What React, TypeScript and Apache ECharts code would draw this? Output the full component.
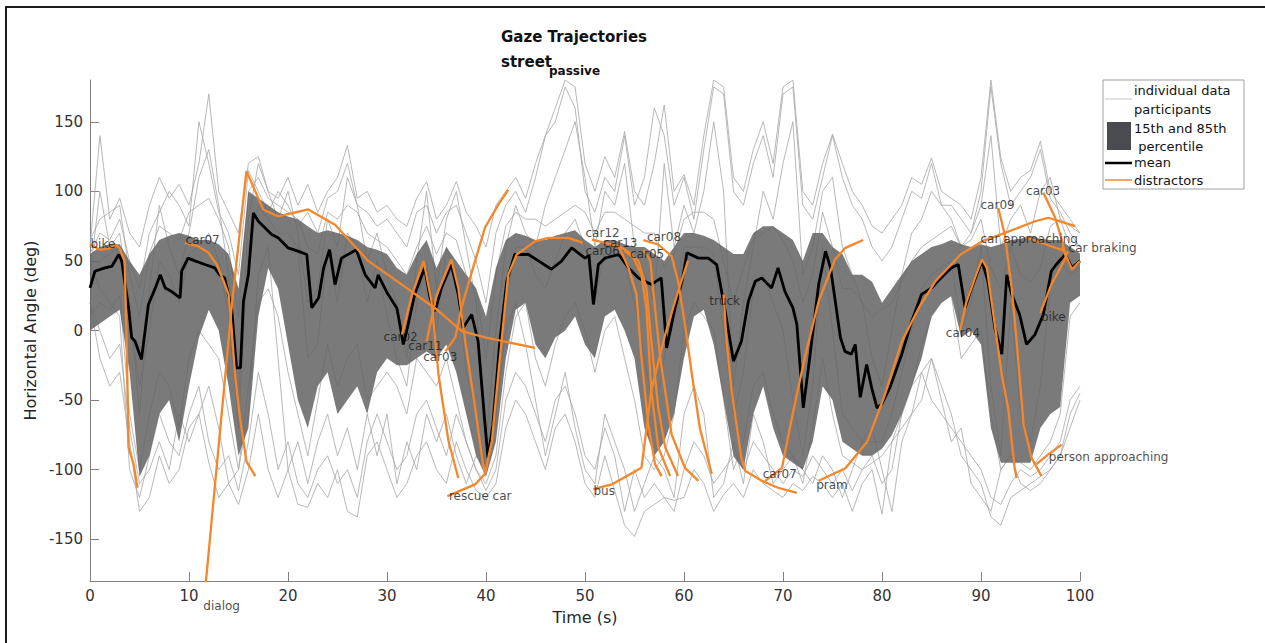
import React, { useEffect, useRef } from "react";
import * as echarts from "echarts";

// ---------- axes ----------
const yTicks = [-150, -100, -50, 0, 50, 100, 150];
const xTicks = [0, 10, 20, 30, 40, 50, 60, 70, 80, 90, 100];

// ---------- individual participants (1 s resolution, t = 0..100) ----------
const partA = [60,140,80,95,70,60,90,110,95,105, 90,120,170,100,85,70,120,125,100,95, 110,90,105,85,100,110,133,95,100,85, 90,80,75,95,107,80,90,107,85,75, 60,90,100,110,95,120,140,160,180,175, 120,100,125,110,143,100,90,120,162,100, 112,90,140,180,175,110,100,130,150,120, 175,180,100,90,120,141,120,100,90,75, 70,80,90,110,105,124,100,95,90,80, 110,180,124,100,110,115,136,100,90,80, 70];
const partB = [20,-20,-40,-30,-80,-130,-120,-90,-110,-100, -70,-60,-95,-120,-110,-125,-100,-60,-100,-120, -100,-125,-127,-110,-120,-100,-130,-134,-90,-80, -100,-120,-110,-90,-80,-100,-110,-80,-100,-115, -120,-110,-70,-50,-60,-80,-100,-70,-60,-80, -110,-120,-90,-115,-140,-148,-130,-125,-120,-122, -120,-100,-110,-130,-118,-110,-120,-100,-110,-115, -120,-110,-115,-105,-110,-120,-110,-130,-110,-100, -132,-80,-70,-60,-50,-20,-40,-60,-90,-100, -110,-134,-140,-120,-115,-110,-105,-100,-90,-60, -45];
const partC = [65,80,85,90,40,10,55,75,70,65, 85,90,95,80,60,10,100,110,95,90, 85,80,60,55,85,80,90,85,70,65, 60,50,40,60,75,55,70,65,40,30, -20,40,75,85,80,80,75,80,85,90, 85,70,85,85,80,75,70,70,45,55, 80,85,85,80,50,20,45,65,70,75, 65,50,20,40,85,60,30,30,20,10, 15,20,35,50,60,65,70,75,60,65, 80,45,30,60,40,35,45,75,80,75, 70];
const partD = [10,20,15,25,-60,-100,-60,-30,-40,-70, -20,0,-10,-20,-60,-100,-40,20,30,10, -30,-60,-90,-50,-10,-40,-20,-10,-50,-40, -30,-40,-60,-20,-30,-40,-20,-50,-80,-100, -110,-90,-30,10,20,-20,-40,-10,10,20, 0,-30,0,10,-20,-50,-90,-100,-90,-60, 0,20,10,0,-50,-100,-80,-40,-30,-60, -80,-90,-110,-70,-20,-60,-90,-95,-100,-95, -90,-80,-60,-40,-10,10,20,25,-20,-10, 0,-60,-100,-90,-95,-100,-90,-80,-60,10, 20];
const partE = [40,100,60,70,20,-60,30,90,60,40, 70,110,130,90,40,-50,80,120,100,80, 100,70,20,30,80,60,110,90,50,70, 40,20,-20,50,100,30,80,100,60,20, -80,0,60,90,70,60,90,110,130,150, 110,60,100,90,120,60,40,20,120,60, 90,70,100,150,100,-40,20,60,100,80, 120,150,40,60,100,110,60,40,20,-20, -40,0,40,70,80,100,90,80,60,70, 90,140,60,80,90,70,100,110,80,60, 55];
const partF = [50,30,20,10,-100,-120,-90,-60,-80,-90, -60,-40,-80,-100,-90,-115,-80,-30,-60,-100, -80,-110,-120,-100,-90,-110,-100,-120,-80,-60, -80,-100,-90,-60,-50,-70,-90,-60,-80,-100, -115,-100,-50,-30,-40,-60,-80,-50,-40,-60, -90,-100,-70,-90,-130,-100,-120,-110,-120,-130, -100,-80,-90,-110,-100,-90,-100,-80,-90,-100, -110,-100,-105,-90,-100,-110,-100,-115,-100,-90, -110,-100,-60,-40,-30,-50,-60,-70,-80,-90, -100,-120,-125,-110,-100,-105,-100,-90,-80,-50, -40];
const partG = [35,50,55,60,10,-40,0,50,40,20, 55,60,70,50,10,-70,60,90,80,70, 70,60,-20,-10,60,20,70,60,20,50, 10,-20,-40,20,50,0,60,40,-30,-60, -100,-60,20,60,60,40,30,50,70,80, 60,20,60,60,50,20,-20,-60,-20,20, 60,60,60,55,0,-60,-30,30,40,20, 0,-50,-90,-40,60,0,-60,-70,-80,-80, -80,-60,-30,0,30,40,45,50,0,20, 60,-40,-90,20,-60,-80,-40,30,50,40, 45];
const partH = [55,70,65,80,50,30,70,85,100,90, 75,150,120,85,70,40,115,100,85,100, 90,75,85,70,95,100,120,90,85,75, 80,70,60,85,90,70,85,90,70,50, 20,70,90,100,85,110,140,150,175,160, 100,85,110,100,140,90,110,160,140,90, 110,80,130,175,170,100,90,120,140,110, 170,175,90,80,110,140,110,90,80,60, 50,60,80,100,95,120,90,90,80,70, 100,175,120,90,100,110,130,95,85,70, 60];
const partI = [20,0,-20,-10,-70,-110,-100,-80,-100,-60, -80,-60,-40,-70,-110,-100,-60,40,60,-20, -100,-80,-110,-80,-60,-90,-70,-100,-60,-90, -60,-110,-80,-100,-60,-80,-60,-90,-110,-90, -100,-60,0,20,-10,-50,-90,-60,-30,-70, -100,-110,-60,-80,-100,-130,-110,-90,-100,-120, -60,-40,-60,-120,-110,-80,-110,-60,-80,-110, -100,-90,-100,-110,-90,-100,-120,-100,-80,-70, -100,-130,-80,-60,-30,-20,-50,-80,-70,-110, -120,-130,-100,-90,-110,-115,-110,-100,-90,-70, -50];
const participants = [partA, partB, partC, partD, partE, partF, partG, partH, partI];

// ---------- 15th / 85th percentile band (1 s resolution) ----------
const bandUpper = [55,60,62,62,50,40,55,65,68,70, 68,65,65,62,55,30,100,95,90,85, 82,80,75,70,72,70,68,65,60,58, 55,45,40,55,65,45,60,50,40,30, 10,45,65,70,68,65,65,68,70,72, 65,60,65,65,62,60,60,55,50,60, 70,70,68,65,60,55,55,70,75,75, 70,65,50,70,70,60,55,40,40,35, 20,30,40,50,55,60,62,65,62,60, 62,60,62,65,66,68,66,65,65,60, 55];
const bandLower = [0,5,10,15,-30,-105,-90,-60,-50,-80, -40,-5,15,0,-40,-90,-70,10,45,30, -10,-50,-70,-40,-30,-60,-50,-40,-60,-30, -20,-25,-25,-20,-15,-20,-10,-30,-60,-90, -105,-80,-20,15,20,-10,-20,-5,0,10, -10,-20,10,15,0,-20,-70,-90,-80,-60, -20,10,15,-10,-50,-90,-100,-60,-40,-70, -90,-95,-100,-80,-40,-50,-80,-85,-90,-90, -85,-75,-60,-40,-20,10,20,25,-5,0, -10,-70,-95,-95,-95,-95,-70,-60,-55,20, 25];

// ---------- mean ----------
const meanT = [0,0.5,1.5,2.2,2.9,3.2,3.5,3.9,4.2,4.55,5.2,5.6,5.9,6.6,7.1,7.6,8.25,9.1,9.26,9.9,10.6,11.6,12.6,13.1,13.6,14.3,14.8,15.2,15.5,16,16.5,17,18.35,19,20,21,21.9,22.4,23.1,23.6,24.2,24.75,25.4,26.9,27.8,28.8,29.1,30.1,31,31.3,31.65,32,32.8,33.8,34.35,34.85,35.5,36.5,37.2,37.7,38.55,39.2,39.9,40.2,40.7,41.4,42.1,42.9,44.3,45.3,46.6,47.65,48.65,50,50.4,50.85,51.35,52,53.4,54.4,55.4,56.7,57.7,58.25,59.1,59.8,60.3,61.45,62.45,63.3,64.1,65,65.8,66.5,67.2,67.85,68.85,69.5,70.2,71,71.4,72.05,72.7,73.6,74.3,74.8,75.3,75.8,76.25,76.9,77.3,77.8,78.45,78.95,79.5,79.96,80.8,82,83,84,85,86,87,87.7,88.4,89.05,90.1,90.7,91.4,92.1,92.6,93.1,93.9,94.6,95.45,96.3,97.1,97.6,98.5,99.2,100];
const meanV = [30.6,42.6,45,46,54.6,50,35.4,16.3,-5,-7.7,-20.8,1.9,18.7,30.6,40,30.6,28,23.5,42.6,52,50,47.4,45,40,37.8,16,-26.8,-26.8,21,40,84.5,78.5,69,66.6,59.4,57,54.6,16.3,23.5,45,58,33,52,58,40,30.6,40,26,16,4.3,-10,0,26,45,23.5,14,30.6,47.4,26,1.9,11.5,-7.7,-67.5,-91.5,-67.5,-7.7,35.4,54.6,54.6,50,44,50,59.4,52,54,18.7,47.4,52,54.6,45,37.8,33,37.8,-12.5,16.3,35.4,55.8,52,52,47.4,16.3,-22,-7.7,21,35.4,37.8,30.6,45,28,16.3,4.3,-55.6,-19.6,33,57,45,20,-5,-15,-17,-10,-48,-24.4,-41,-55.6,-53,-41,-17,6.7,26,30.6,38,45,47.4,16.3,30.6,50,35.4,1.9,-17,40,26,11.5,-10,-2.9,11.5,42.6,47.4,54.6,45,50];

// ---------- distractors: [time, angle] ----------
const dBike1 = [[0,62],[1,58],[2,59],[2.5,62],[3,59],[3.5,50],[3.7,-8],[3.9,-84],[4.4,-96],[4.8,-113]];
const dCar07a = [[9.6,63],[10.9,60.6],[11.95,56],[12.8,47.4],[13.5,35.4],[14,26],[14.3,2],[14.65,-31.6],[15.15,-62.7],[15.8,-94],[16.7,-104.6]];
const dDialog = [[11.65,-185],[14.3,16],[15.8,114.5],[17.5,87],[19,82],[22.05,87],[24.75,76],[28.1,50],[31.5,33],[34.85,16],[37.55,-0.5],[39.9,-5],[44.95,-12.5]];
const dCar02 = [[31.5,-3],[32.5,25],[33.7,50],[34.5,21],[35.2,-31.6],[36.2,-79],[37.2,-106]];
const dCar11 = [[34,-7.7],[35,25],[36.5,51],[37.2,30.6],[37.9,-7.7],[38.9,-55.6],[39.7,-96],[39.9,-103]];
const dCar03a = [[35.9,-15],[36.9,-5],[37.5,16],[38.9,50],[39.9,74],[41.25,90.5],[42.25,101]];
const dRescue = [[36.1,-119],[38.9,-110.6],[39.9,-103],[40.6,-79],[41.25,-31],[41.9,16],[42.25,40],[43.1,54.6],[44.95,64],[46.3,66.6],[48.3,66.6],[49.8,63]];
const dBus = [[50.85,-114],[52.7,-110.6],[55.7,-98.7],[56.06,-79],[56.7,-43],[58.1,-2.9],[59.4,28],[60.4,50]];
const dCar12 = [[50.7,65.3],[53.4,60.6],[54.4,45],[55.2,26],[55.7,-19.6],[56.4,-67.5],[57.07,-96],[57.74,-104.6]];
const dCar13 = [[53.4,61],[54.7,55],[55.7,40],[56.2,16],[56.7,-43],[57.4,-84],[58.6,-104.6]];
const dCar06 = [[54,57],[55.4,50],[56.2,30.6],[56.7,-7.7],[57.4,-55.6],[58.1,-84],[59.4,-104.6]];
const dCar05 = [[55.9,58],[56.6,50],[57.07,16],[57.6,-19.6],[58.75,-74.7],[60.1,-98.7],[61.45,-108]];
const dCar08 = [[55.9,65],[57.4,61.8],[58.75,53.4],[59.4,35.4],[60.1,4.3],[60.8,-31.6],[61.6,-70],[62.8,-103]];
const dTruck = [[64,26],[64.3,-7.7],[64.8,-43],[65.8,-91.5],[66.2,-101],[67.85,-108],[69.5,-113],[71.4,-116.6]];
const dCar07b = [[68.2,-108],[69.9,-98.7],[70.9,-62.7],[72.2,-19.6],[73.6,21],[75.25,51],[76.3,59.4],[78.1,65]];
const dPram = [[73.6,-108],[76.3,-99],[78.5,-80],[80.3,-46],[82,-8],[83.7,16],[85.35,35],[88,55],[90.1,64],[92.75,71],[95.45,78.5],[96.8,81],[99.5,75]];
const dCar04 = [[87.9,0],[88.5,20],[89.5,40],[90.1,51],[90.6,45],[91.4,4],[92.1,-32],[92.75,-56],[93.4,-99],[93.6,-106]];
const dCar09 = [[91.75,88],[92.4,69],[93.1,30.6],[93.6,-7.7],[94.3,-67.5],[95.1,-91.5],[95.45,-96],[96.1,-104.6]];
const dCar03b = [[96.3,99],[97.5,81],[98.2,64],[98.5,54.6],[98.8,50]];
const dCarBraking = [[98.2,60],[98.8,50],[99.2,44],[100,50]];
const dCarApproach = [[94.5,67],[96.5,62],[98.5,57]];
const dBike2 = [[96,12.7],[97.1,33],[98.2,47.4],[98.8,57]];
const dPerson = [[95.6,-96],[96.8,-89],[98.15,-82]];
const distractors = [dBike1, dCar07a, dDialog, dCar02, dCar11, dCar03a, dRescue, dBus, dCar12, dCar13, dCar06, dCar05, dCar08, dTruck, dCar07b, dPram, dCar04, dCar09, dCar03b, dCarBraking, dCarApproach, dBike2, dPerson];

// ---------- distractor labels ----------
const labelNames = ["bike","car07","dialog","car02","car11","car03","rescue car","bus","car12","car13","car06","car05","car08","truck","car07","pram","car04","car09","car03","car approaching","car braking","bike","person approaching"];
const labelT = [0,9.6,11.4,29.6,32.1,33.6,36.2,50.8,50,51.8,50,54.5,56.2,62.5,67.9,73.3,86.4,89.9,94.5,89.9,98.8,96,96.8];
const labelV = [62,65,-198,-5,-11,-19,-119,-115,70,63,57,55,67,21,-103,-111,-2,90,100,66,59,10,-91];

const FONT = "DejaVu Sans";
const ORANGE = "#f4862b";

export default function App() {
  const ref = useRef<HTMLDivElement>(null);
  useEffect(() => {
    document.body.style.margin = "0";
    const chart = echarts.init(ref.current as HTMLDivElement, undefined, { renderer: "svg" });

    const series: any[] = [];
    participants.forEach((p) => {
      series.push({
        type: "line",
        data: p.map((v, i) => [i, v]),
        showSymbol: false,
        silent: true,
        lineStyle: { color: "#a6a6a6", width: 0.8 },
        z: 1,
      });
    });
    series.push({
      type: "custom",
      silent: true,
      z: 2,
      data: [[0, 0]],
      renderItem: (params: any, api: any) => {
        const pts: number[][] = [];
        for (let i = 0; i < bandUpper.length; i++) pts.push(api.coord([i, bandUpper[i]]));
        for (let i = bandLower.length - 1; i >= 0; i--) pts.push(api.coord([i, bandLower[i]]));
        return { type: "polygon", shape: { points: pts }, style: { fill: "#636363", opacity: 0.85 } };
      },
    });
    series.push({
      type: "line",
      data: meanT.map((t, i) => [t, meanV[i]]),
      showSymbol: false,
      silent: true,
      lineStyle: { color: "#000", width: 2.8 },
      z: 3,
    });
    distractors.forEach((d) => {
      series.push({
        type: "line",
        data: d,
        showSymbol: false,
        silent: true,
        lineStyle: { color: ORANGE, width: 2.3 },
        z: 4,
      });
    });
    series.push({
      type: "scatter",
      clip: false,
      silent: true,
      symbolSize: 1,
      itemStyle: { color: "rgba(0,0,0,0)" },
      z: 5,
      data: labelNames.map((n, i) => ({ name: n, value: [labelT[i], labelV[i]] })),
      label: {
        show: true,
        position: "right",
        distance: 0,
        formatter: "{b}",
        fontSize: 12,
        fontFamily: FONT,
        color: "#1a1a1a",
      },
    });

    const g = (x: number, y: number, text: string, size: number, weight = "normal", align = "left") => ({
      type: "text",
      x,
      y,
      style: { text, fontSize: size, fontFamily: FONT, fontWeight: weight, fill: "#111", textAlign: align, textVerticalAlign: "middle" },
      z: 10,
    });

    chart.setOption({
      animation: false,
      textStyle: { fontFamily: FONT },
      grid: { left: 90, right: 185, top: 80, bottom: 62 },
      xAxis: {
        type: "value",
        min: 0,
        max: 100,
        interval: 10,
        name: "Time (s)",
        nameLocation: "middle",
        nameGap: 28,
        nameTextStyle: { fontSize: 16, color: "#262626", fontFamily: FONT },
        axisLine: { onZero: false, lineStyle: { color: "#808080", width: 1 } },
        axisTick: { inside: true, length: 9, lineStyle: { color: "#808080" } },
        axisLabel: { fontSize: 15, color: "#333", margin: 7, fontFamily: FONT },
        splitLine: { show: false },
      },
      yAxis: {
        type: "value",
        min: -180,
        max: 180,
        name: "Horizontal Angle (deg)",
        nameLocation: "middle",
        nameGap: 38,
        nameTextStyle: { fontSize: 16, color: "#262626", fontFamily: FONT },
        axisLine: { show: true, onZero: false, lineStyle: { color: "#808080", width: 1 } },
        axisTick: { show: true, inside: true, length: 9, customValues: yTicks, lineStyle: { color: "#808080" } },
        axisLabel: { fontSize: 15, color: "#333", margin: 7, customValues: yTicks, fontFamily: FONT },
        splitLine: { show: false },
      },
      graphic: [
        { type: "rect", shape: { x: 6, y: 7, width: 1300, height: 700 }, style: { fill: "none", stroke: "#1a1a1a", lineWidth: 2 }, silent: true },
        g(501, 37, "Gaze Trajectories", 15, "bold"),
        g(501, 62, "street", 15, "bold"),
        g(549, 71, "passive", 12, "bold"),
        { type: "rect", shape: { x: 1103, y: 80, width: 141, height: 109 }, style: { fill: "#fff", stroke: "#a0a0a0", lineWidth: 1 }, z: 9 },
        { type: "line", shape: { x1: 1105, y1: 99, x2: 1132, y2: 99 }, style: { stroke: "#c4c4c4", lineWidth: 1 }, z: 10 },
        g(1134, 90, "individual data", 13),
        g(1134, 109, "participants", 13),
        { type: "rect", shape: { x: 1107, y: 122, width: 24, height: 28 }, style: { fill: "#4a4b50" }, z: 10 },
        g(1134, 128, "15th and 85th", 13),
        g(1134, 146, " percentile", 13),
        { type: "line", shape: { x1: 1105, y1: 163, x2: 1132, y2: 163 }, style: { stroke: "#000", lineWidth: 2.5 }, z: 10 },
        g(1134, 162, "mean", 13),
        { type: "line", shape: { x1: 1105, y1: 180, x2: 1132, y2: 180 }, style: { stroke: ORANGE, lineWidth: 1.5 }, z: 10 },
        g(1134, 180, "distractors", 13),
      ],
      series,
    });
    return () => chart.dispose();
  }, []);
  return <div ref={ref} style={{ width: 1265, height: 643 }} />;
}
